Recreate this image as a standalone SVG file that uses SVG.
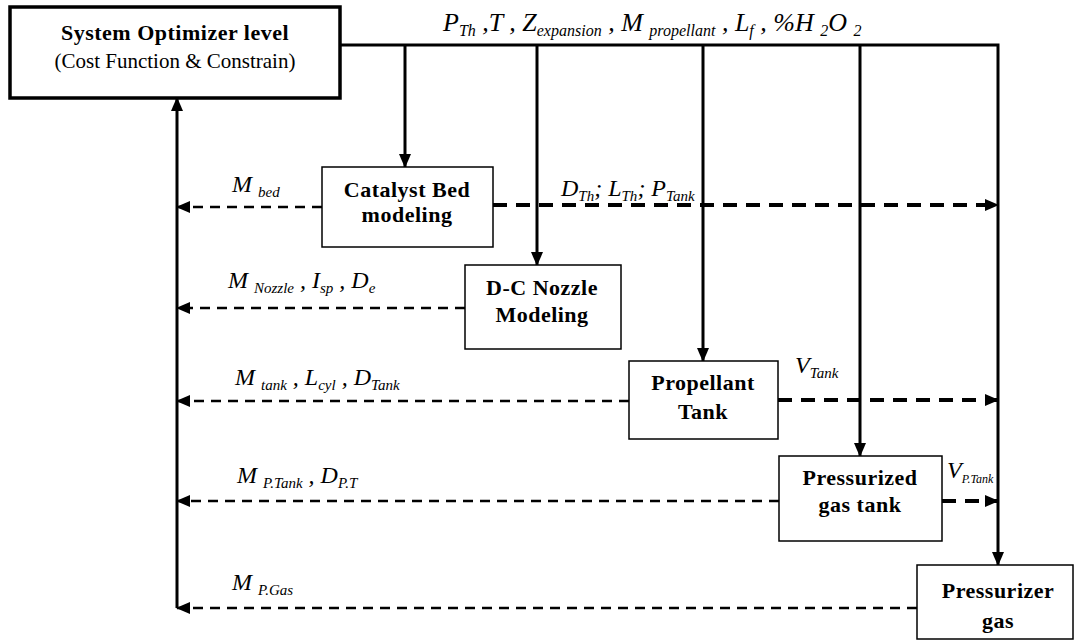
<svg xmlns="http://www.w3.org/2000/svg" width="1076" height="641" viewBox="0 0 1076 641">
<defs>
<marker id="ah" markerUnits="userSpaceOnUse" markerWidth="14" markerHeight="12" viewBox="0 0 14 12" refX="13" refY="6" orient="auto"><path d="M0,0 L14,6 L0,12 z" fill="#000"/></marker>
</defs>
<style>
.box{fill:#fff;stroke:#000;stroke-width:1.5}
.main{fill:#fff;stroke:#000;stroke-width:3.5}
.solid{fill:none;stroke:#000;stroke-width:3}
.dl{fill:none;stroke:#000;stroke-width:2.5;stroke-dasharray:10 7}
.dr{fill:none;stroke:#000;stroke-width:4;stroke-dasharray:14 9}
text{font-family:'Liberation Serif','Times New Roman','DejaVu Serif',serif}
.t{font-weight:bold;font-size:22px;text-anchor:middle;fill:#000;letter-spacing:0.5px}
.r{font-size:21px;text-anchor:middle;fill:#000}
.m{font-style:italic;font-size:24px;fill:#000}
.s{font-size:15px}
.big{font-size:26px}
.bs{font-size:16px}
</style>
<rect width="1076" height="641" fill="#fff"/>
<g id="connectors">
<path class="solid" d="M340,45 H998 V565" marker-end="url(#ah)"/>
<path class="solid" d="M405,45 V167" marker-end="url(#ah)"/>
<path class="solid" d="M537,45 V265" marker-end="url(#ah)"/>
<path class="solid" d="M703,45 V361" marker-end="url(#ah)"/>
<path class="solid" d="M860,45 V456" marker-end="url(#ah)"/>
<path class="solid" d="M177,608 V98" marker-end="url(#ah)"/>
<path class="dl" d="M322,207 H177" marker-end="url(#ah)"/>
<path class="dr" d="M493,205 H998" marker-end="url(#ah)"/>
<path class="dl" d="M465,308 H177" marker-end="url(#ah)"/>
<path class="dl" d="M629,401 H177" marker-end="url(#ah)"/>
<path class="dr" d="M778,400 H998" marker-end="url(#ah)"/>
<path class="dl" d="M779,501 H177" marker-end="url(#ah)"/>
<path class="dr" d="M942,501 H998" marker-end="url(#ah)"/>
<path class="dl" d="M917,608 H177" marker-end="url(#ah)"/>
</g>
<g id="labels">
<text class="m big" x="443" y="31">P<tspan class="bs" dy="5">Th</tspan><tspan dy="-5"> ,T , Z</tspan><tspan class="bs" dy="5">expansion</tspan><tspan dy="-5"> , M </tspan><tspan class="bs" dy="5">propellant</tspan><tspan dy="-5"> , L</tspan><tspan class="bs" dy="5">f</tspan><tspan dy="-5"> , %H </tspan><tspan class="bs" dy="5">2</tspan><tspan dy="-5">O </tspan><tspan class="bs" dy="5">2</tspan></text>
<text class="m" x="232" y="192">M <tspan class="s" dy="5">bed</tspan></text>
<text class="m" x="561" y="196">D<tspan class="s" dy="5">Th</tspan><tspan dy="-5">; L</tspan><tspan class="s" dy="5">Th</tspan><tspan dy="-5">; P</tspan><tspan class="s" dy="5">Tank</tspan></text>
<text class="m" x="228" y="288">M <tspan class="s" dy="5">Nozzle</tspan><tspan dy="-5"> , I</tspan><tspan class="s" dy="5">sp</tspan><tspan dy="-5"> , D</tspan><tspan class="s" dy="5">e</tspan></text>
<text class="m" x="235" y="385">M <tspan class="s" dy="5">tank</tspan><tspan dy="-5"> , L</tspan><tspan class="s" dy="5">cyl</tspan><tspan dy="-5"> , D</tspan><tspan class="s" dy="5">Tank</tspan></text>
<text class="m" x="795" y="373">V<tspan class="s" dy="5">Tank</tspan></text>
<text class="m" x="237" y="483">M <tspan class="s" dy="5">P.Tank</tspan><tspan dy="-5"> , D</tspan><tspan class="s" dy="5">P.T</tspan></text>
<text class="m" x="947" y="478">V<tspan style="font-size:12px" dy="5">P.Tank</tspan></text>
<text class="m" x="232" y="590">M <tspan class="s" dy="5">P.Gas</tspan></text>
</g>
<g id="optimizer">
<rect class="main" x="10" y="7" width="330" height="91"/>
<text class="t" x="175" y="40">System Optimizer level</text>
<text class="r" x="175" y="68">(Cost Function &amp; Constrain)</text>
</g>
<g id="catalyst">
<rect class="box" x="322" y="167" width="171" height="80"/>
<text class="t" x="407" y="197">Catalyst Bed</text>
<text class="t" x="407" y="222">modeling</text>
</g>
<g id="nozzle">
<rect class="box" x="465" y="265" width="156" height="84"/>
<text class="t" x="542" y="295">D-C Nozzle</text>
<text class="t" x="542" y="322">Modeling</text>
</g>
<g id="propellant">
<rect class="box" x="629" y="361" width="149" height="78"/>
<text class="t" x="703" y="390">Propellant</text>
<text class="t" x="703" y="419">Tank</text>
</g>
<g id="pgastank">
<rect class="box" x="779" y="456" width="163" height="85"/>
<text class="t" x="860" y="485">Pressurized</text>
<text class="t" x="860" y="512">gas tank</text>
</g>
<g id="pgas">
<rect class="box" x="917" y="565" width="156" height="74"/>
<text class="t" x="998" y="598">Pressurizer</text>
<text class="t" x="998" y="628">gas</text>
</g>
</svg>
